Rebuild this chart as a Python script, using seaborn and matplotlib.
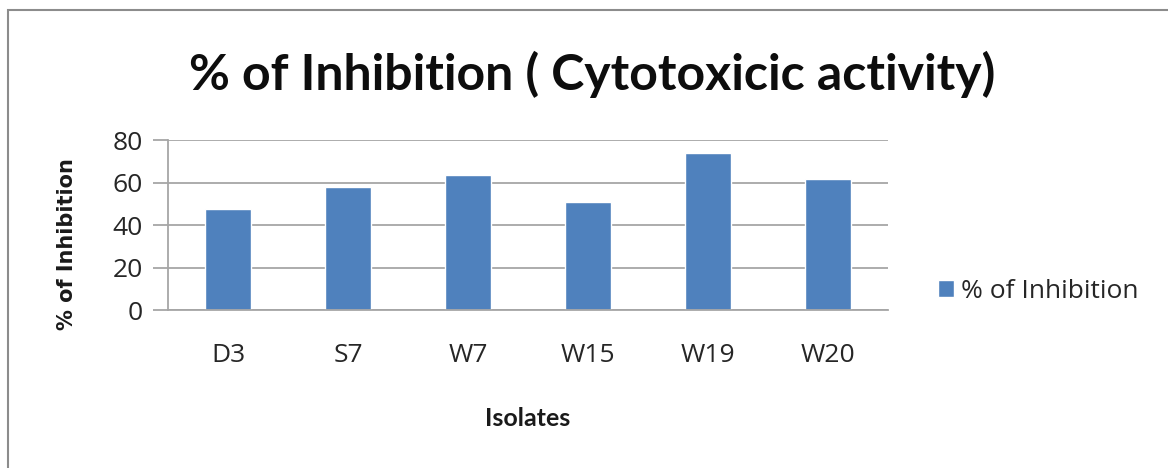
import matplotlib
matplotlib.use("Agg")
import matplotlib.pyplot as plt
import seaborn as sns
import pandas as pd
from matplotlib.patches import Rectangle

isolates = ["D3", "S7", "W7", "W15", "W19", "W20"]
inhibition = [47.5, 58.0, 63.5, 51.0, 74.0, 61.5]
series_name = "% of Inhibition"
yticks = [0, 20, 40, 60, 80]

sns.set_theme(style="white")
plt.rcParams["font.family"] = ["Open Sans", "DejaVu Sans"]

df = pd.DataFrame({"Isolates": isolates, "value": inhibition, "series": series_name})

fig = plt.figure(figsize=(11.68, 4.68), dpi=100)
ax = fig.add_axes([0.1438, 0.3376, 0.6164, 0.3632])

sns.barplot(data=df, x="Isolates", y="value", hue="series", palette=["#4F81BD"],
            width=0.38, ax=ax, saturation=1, legend=True)

grid_c = "#A6A6A6"
ax.set_ylim(0, 80)
ax.set_xlim(-0.5, len(isolates) - 0.5)
ax.set_yticks(yticks)
ax.yaxis.grid(True, color=grid_c, linewidth=1.3)
ax.set_axisbelow(True)
for s in ["top", "right"]:
    ax.spines[s].set_visible(False)
for s in ["left", "bottom"]:
    ax.spines[s].set_color(grid_c)
    ax.spines[s].set_linewidth(1.3)
ax.tick_params(axis="x", labelsize=19, pad=24, length=0, labelcolor="#262626")
ax.tick_params(axis="y", labelsize=19, length=11, width=1.3, left=True, pad=7,
               color=grid_c, labelcolor="#262626")

ax.set_xlabel("Isolates", fontsize=18, fontweight="bold", family=["Lato", "DejaVu Sans"],
              color="#1a1a1a")
ax.xaxis.set_label_coords(0.5, -0.57)
ax.set_ylabel("% of Inhibition", fontsize=15, fontweight="bold", family=["DejaVu Sans"],
              color="#1a1a1a")
ax.yaxis.set_label_coords(-0.126, 0.39)

leg = ax.legend(loc="center left", bbox_to_anchor=(1.07, 0.11), frameon=False,
                fontsize=19, handlelength=0.6, handleheight=0.6, handletextpad=0.25,
                borderaxespad=0, borderpad=0)
for t in leg.get_texts():
    t.set_color("#262626")

fig.text(0.507, 0.84, "% of Inhibition ( Cytotoxicic activity)", fontsize=36,
         fontweight="bold", family=["Lato", "DejaVu Sans"], ha="center", va="center",
         color="#0d0d0d")

border = Rectangle((0.007, -0.01), 1.1, 0.988, transform=fig.transFigure, fill=False,
                   edgecolor="#8C8C8C", linewidth=1.5)
fig.patches.append(border)

fig.savefig("out.png", dpi=100)
